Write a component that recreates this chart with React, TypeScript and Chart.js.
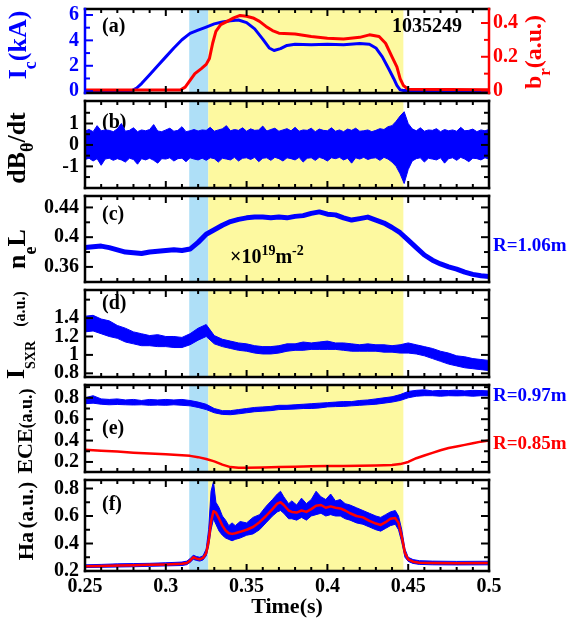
import React, { useEffect, useRef } from "react";
import { Chart, registerables } from "chart.js";
Chart.register(...registerables);

const FONT = "'Liberation Serif', 'Times New Roman', Times, serif";
const BLUE = "#0000ff";
const RED = "#ff0000";
const BLACK = "#000000";
const SHADE_BLUE_COLOR = "#aedff7";
const SHADE_YELLOW_COLOR = "#fdf9a0";

// ---------- axes / ticks ----------
const X_MIN = 0.25;
const X_MAX = 0.5;
const xMajor = [0.25, 0.3, 0.35, 0.4, 0.45, 0.5];
const xTickLabels = ["0.25", "0.3", "0.35", "0.4", "0.45", "0.5"];
const xMinor = [0.26, 0.27, 0.28, 0.29, 0.31, 0.32, 0.33, 0.34, 0.36, 0.37, 0.38, 0.39, 0.41, 0.42, 0.43, 0.44, 0.46, 0.47, 0.48, 0.49];

const shadeBlue = [0.3145, 0.3263];
const shadeYellow = [0.3263, 0.447];

const icTicks = [0, 2, 4, 6];
const icMinor = [1, 3, 5];
const brTicks = [0, 0.2, 0.4];
const brMinor = [0.1, 0.3];
const dbTicks = [-1, 0, 1];
const dbMinor = [-1.5, -0.5, 0.5, 1.5];
const neTicks = [0.36, 0.4, 0.44];
const neMinor = [0.38, 0.42];
const sxrTicks = [0.8, 1, 1.2, 1.4];
const sxrMinor = [1.6];
const eceTicks = [0.2, 0.4, 0.6, 0.8];
const eceMinor = [0.3, 0.5, 0.7, 0.9];
const haTicks = [0.2, 0.4, 0.6, 0.8];
const haMinor = [0.3, 0.5, 0.7];

// ---------- data ----------
// (a) Ic (kA)
const tIc = [0.25, 0.279, 0.282, 0.285, 0.29, 0.295, 0.3, 0.305, 0.31, 0.315, 0.32, 0.325, 0.33, 0.335, 0.34, 0.345, 0.35, 0.355, 0.36, 0.364, 0.367, 0.371, 0.375, 0.38, 0.39, 0.4, 0.41, 0.42, 0.426, 0.43, 0.434, 0.438, 0.441, 0.443, 0.445, 0.447, 0.5];
const vIc = [0.05, 0.05, 0.25, 0.6, 1.3, 2.0, 2.7, 3.4, 4.05, 4.55, 4.8, 5.05, 5.3, 5.45, 5.55, 5.6, 5.4, 4.9, 4.1, 3.4, 3.2, 3.35, 3.6, 3.7, 3.65, 3.7, 3.65, 3.75, 3.7, 3.4, 2.7, 1.75, 1.0, 0.45, 0.1, 0.05, 0.05];
// (a) br (a.u.)
const tBr = [0.25, 0.309, 0.312, 0.315, 0.318, 0.322, 0.325, 0.327, 0.329, 0.331, 0.334, 0.338, 0.342, 0.346, 0.35, 0.354, 0.358, 0.362, 0.366, 0.37, 0.38, 0.39, 0.4, 0.41, 0.42, 0.426, 0.432, 0.436, 0.44, 0.443, 0.445, 0.447, 0.45, 0.5];
const vBr = [0.003, 0.003, 0.02, 0.06, 0.1, 0.13, 0.155, 0.19, 0.28, 0.35, 0.39, 0.41, 0.43, 0.445, 0.44, 0.43, 0.41, 0.38, 0.355, 0.34, 0.335, 0.32, 0.31, 0.305, 0.315, 0.33, 0.32, 0.28, 0.2, 0.14, 0.07, 0.03, 0.008, 0.005];

// time grids
const grid25 = Array.from({ length: 101 }, (_, i) => +(0.25 + i * 0.0025).toFixed(4));
const grid5 = Array.from({ length: 51 }, (_, i) => +(0.25 + i * 0.005).toFixed(3));

// (b) dB/dt envelope
const dbUpper = [
  0.65, 0.72, 0.62, 0.9, 0.66, 0.7, 0.68, 0.62, 0.75, 1.0,
  0.64, 0.68, 0.8, 0.62, 0.7, 0.66, 0.72, 0.95, 0.65, 0.62,
  0.7, 0.78, 0.64, 0.68, 0.85, 0.62, 0.66, 0.72, 0.65, 0.7,
  0.68, 0.82, 0.64, 0.7, 0.75, 0.9, 0.66, 0.72, 0.68, 0.8,
  0.64, 0.75, 0.68, 0.7, 0.88, 0.65, 0.72, 0.78, 0.64, 0.7,
  0.76, 0.66, 0.82, 0.64, 0.7, 0.68, 0.78, 0.62, 0.74, 0.68,
  0.66, 0.8, 0.64, 0.7, 0.62, 0.74, 0.68, 0.78, 0.64, 0.66,
  0.7, 0.62, 0.68, 0.76, 0.72, 0.85, 0.9, 1.1, 1.35, 1.55,
  1.0, 0.75, 0.66, 0.8, 0.64, 0.7, 0.68, 0.76, 0.62, 0.72,
  0.66, 0.7, 0.64, 0.82, 0.66, 0.68, 0.74, 0.62, 0.7, 0.66,
  0.72,
];
const dbLower = [
  -0.68, -0.62, -0.75, -0.64, -0.95, -0.66, -0.62, -0.72, -0.64, -0.7,
  -0.8, -0.62, -0.68, -0.9, -0.64, -0.7, -0.62, -0.72, -0.85, -0.64,
  -0.66, -0.6, -0.75, -0.64, -0.62, -0.78, -0.6, -0.66, -0.7, -0.62,
  -0.72, -0.6, -0.64, -0.8, -0.62, -0.66, -0.7, -0.58, -0.75, -0.62,
  -0.6, -0.68, -0.58, -0.78, -0.62, -0.6, -0.72, -0.58, -0.64, -0.75,
  -0.6, -0.64, -0.7, -0.58, -0.8, -0.62, -0.6, -0.72, -0.58, -0.64,
  -0.75, -0.6, -0.64, -0.58, -0.7, -0.62, -0.85, -0.6, -0.66, -0.58,
  -0.68, -0.62, -0.6, -0.72, -0.58, -0.66, -0.8, -1.0, -1.35, -1.8,
  -1.15, -0.75, -0.64, -0.6, -0.8, -0.62, -0.66, -0.7, -0.6, -0.85,
  -0.64, -0.6, -0.72, -0.58, -0.66, -0.78, -0.62, -0.64, -0.7, -0.6,
  -0.66,
];

// (c) neL
const neL = [
  0.386, 0.387, 0.388, 0.386, 0.383, 0.38, 0.379, 0.378, 0.38, 0.381,
  0.382, 0.383, 0.382, 0.384, 0.393, 0.404, 0.41, 0.416, 0.421, 0.424,
  0.426, 0.427, 0.427, 0.426, 0.427, 0.426, 0.428, 0.429, 0.432, 0.434,
  0.431, 0.43, 0.426, 0.423, 0.425, 0.427, 0.423, 0.419, 0.413, 0.406,
  0.396, 0.386, 0.376, 0.369, 0.364, 0.36, 0.357, 0.353, 0.35, 0.348,
  0.347,
];

// (d) I_SXR envelope
const sxrUpper = [
  1.42, 1.43, 1.39, 1.37, 1.32, 1.29, 1.25, 1.23, 1.21, 1.22,
  1.2, 1.2, 1.19, 1.23, 1.29, 1.33, 1.21, 1.17, 1.15, 1.13,
  1.12, 1.1, 1.09, 1.09, 1.1, 1.12, 1.12, 1.14, 1.13, 1.14,
  1.15, 1.13, 1.13, 1.12, 1.11, 1.12, 1.11, 1.11, 1.1, 1.11,
  1.13, 1.11, 1.09, 1.07, 1.04, 1.02, 0.99, 0.98, 0.96, 0.95,
  0.94,
];
const sxrLower = [
  1.25, 1.26, 1.23, 1.2, 1.18, 1.14, 1.12, 1.1, 1.1, 1.09,
  1.09, 1.08, 1.08, 1.11, 1.16, 1.2, 1.12, 1.09, 1.07, 1.05,
  1.04, 1.02, 1.01, 1.01, 1.02, 1.04, 1.05, 1.05, 1.06, 1.06,
  1.06, 1.06, 1.05, 1.04, 1.04, 1.04, 1.04, 1.03, 1.03, 1.02,
  1.02, 1.01, 0.99, 0.96, 0.93, 0.9, 0.88, 0.86, 0.85, 0.84,
  0.83,
];

// (e) ECE R=0.97m envelope
const eceBlueUpper = [
  0.8, 0.82, 0.79, 0.785, 0.79, 0.78, 0.785, 0.775, 0.785, 0.78,
  0.785, 0.78, 0.785, 0.775, 0.76, 0.74, 0.7, 0.68, 0.68, 0.69,
  0.7, 0.71, 0.715, 0.72, 0.73, 0.73, 0.735, 0.74, 0.745, 0.75,
  0.755, 0.76, 0.765, 0.765, 0.775, 0.78, 0.79, 0.8, 0.81, 0.83,
  0.86, 0.87, 0.875, 0.865, 0.87, 0.868, 0.872, 0.865, 0.87, 0.868,
  0.865,
];
const eceBlueLower = [
  0.745, 0.75, 0.74, 0.735, 0.738, 0.735, 0.733, 0.735, 0.73, 0.732,
  0.73, 0.735, 0.73, 0.725, 0.71, 0.69, 0.66, 0.645, 0.642, 0.65,
  0.66, 0.67, 0.675, 0.68, 0.69, 0.692, 0.695, 0.7, 0.7, 0.705,
  0.715, 0.718, 0.72, 0.725, 0.73, 0.735, 0.74, 0.75, 0.76, 0.775,
  0.8, 0.815, 0.82, 0.82, 0.815, 0.82, 0.818, 0.82, 0.815, 0.82,
  0.818,
];
// (e) ECE R=0.85m
const tEceRed = [0.25, 0.26, 0.27, 0.28, 0.29, 0.3, 0.31, 0.315, 0.32, 0.325, 0.33, 0.335, 0.34, 0.345, 0.35, 0.36, 0.37, 0.38, 0.39, 0.4, 0.41, 0.42, 0.43, 0.44, 0.445, 0.45, 0.455, 0.46, 0.465, 0.47, 0.475, 0.48, 0.485, 0.49, 0.495, 0.5];
const vEceRed = [0.315, 0.305, 0.297, 0.287, 0.28, 0.272, 0.262, 0.257, 0.245, 0.228, 0.205, 0.175, 0.152, 0.145, 0.145, 0.148, 0.152, 0.156, 0.159, 0.161, 0.163, 0.165, 0.167, 0.172, 0.18, 0.2, 0.235, 0.26, 0.285, 0.31, 0.33, 0.345, 0.36, 0.375, 0.39, 0.4];

// (f) Ha
const tHa = [0.25, 0.26, 0.27, 0.28, 0.29, 0.3, 0.31, 0.313, 0.315, 0.317, 0.319, 0.321, 0.323, 0.325, 0.3265, 0.328, 0.3295, 0.331, 0.333, 0.335, 0.337, 0.339, 0.341, 0.343, 0.346, 0.35, 0.354, 0.358, 0.362, 0.366, 0.369, 0.371, 0.373, 0.376, 0.378, 0.381, 0.384, 0.387, 0.39, 0.393, 0.396, 0.399, 0.402, 0.405, 0.408, 0.411, 0.414, 0.418, 0.422, 0.426, 0.43, 0.433, 0.436, 0.439, 0.442, 0.444, 0.446, 0.448, 0.45, 0.453, 0.457, 0.465, 0.48, 0.5];
const haRed = [0.235, 0.237, 0.24, 0.242, 0.245, 0.248, 0.252, 0.258, 0.275, 0.3, 0.29, 0.285, 0.295, 0.33, 0.42, 0.56, 0.635, 0.625, 0.58, 0.53, 0.495, 0.475, 0.47, 0.475, 0.485, 0.5, 0.52, 0.555, 0.6, 0.65, 0.69, 0.7, 0.68, 0.64, 0.63, 0.625, 0.64, 0.63, 0.65, 0.675, 0.68, 0.66, 0.67, 0.66, 0.655, 0.64, 0.62, 0.6, 0.59, 0.565, 0.545, 0.535, 0.555, 0.58, 0.585, 0.55, 0.45, 0.33, 0.285, 0.268, 0.26, 0.258, 0.257, 0.258];
const haBlueUpper = [0.245, 0.248, 0.252, 0.254, 0.256, 0.26, 0.265, 0.272, 0.29, 0.315, 0.305, 0.3, 0.31, 0.36, 0.5, 0.78, 0.85, 0.7, 0.66, 0.6, 0.57, 0.53, 0.55, 0.53, 0.56, 0.55, 0.59, 0.61, 0.67, 0.72, 0.76, 0.78, 0.74, 0.69, 0.71, 0.68, 0.73, 0.69, 0.72, 0.78, 0.74, 0.72, 0.76, 0.71, 0.72, 0.69, 0.68, 0.66, 0.64, 0.62, 0.6, 0.59, 0.61, 0.63, 0.64, 0.6, 0.5, 0.36, 0.3, 0.283, 0.275, 0.272, 0.27, 0.271];
const haBlueLower = [0.225, 0.227, 0.229, 0.231, 0.234, 0.237, 0.24, 0.246, 0.262, 0.285, 0.277, 0.272, 0.28, 0.31, 0.38, 0.5, 0.58, 0.54, 0.49, 0.46, 0.44, 0.43, 0.42, 0.43, 0.44, 0.46, 0.47, 0.5, 0.55, 0.6, 0.63, 0.64, 0.62, 0.58, 0.58, 0.57, 0.59, 0.57, 0.6, 0.61, 0.62, 0.6, 0.61, 0.6, 0.6, 0.58, 0.57, 0.55, 0.54, 0.52, 0.5, 0.49, 0.51, 0.53, 0.54, 0.5, 0.41, 0.3, 0.27, 0.255, 0.248, 0.245, 0.244, 0.245];

// ---------- layout ----------
const W = 567;
const PAD = 14;
const LEFTW = 85;
const RIGHTW = 78;
const XAXH = 51;
const edges = [5, 97, 192, 286, 381, 476, 571];

type Seg = { t: string; size: number; dy?: number };
type Txt = { segs: Seg[]; x: number; y: number; color: string; rot?: boolean; align?: "left" | "center"; under?: boolean };

const pts = (ts: number[], vs: number[]) => ts.map((t, i) => ({ x: t, y: vs[i] }));
const line = (data: any[], color: string, width: number, yAxisID = "y") => ({
  data, borderColor: color, backgroundColor: color, borderWidth: width, yAxisID,
  pointRadius: 0, fill: false, tension: 0, borderJoinStyle: "round",
});
const band = (up: any[], lo: any[], color: string) => [
  { data: up, borderColor: color, backgroundColor: color, borderWidth: 1, pointRadius: 0, fill: "+1", tension: 0, yAxisID: "y" },
  { data: lo, borderColor: color, backgroundColor: color, borderWidth: 1, pointRadius: 0, fill: false, tension: 0, yAxisID: "y" },
];

const letter = (s: string, y: number): Txt => ({ segs: [{ t: s, size: 20 }], x: 102, y, color: BLACK, align: "left", under: true });

const panels: any[] = [
  {
    top: edges[0], bottom: edges[1], showX: false,
    y: { min: -0.144, max: 6.47, major: icTicks, minor: icMinor, color: BLUE },
    y2: { min: -0.0146, max: 0.483, major: brTicks, minor: brMinor, color: RED },
    leftColor: BLUE, rightColor: RED,
    datasets: [line(pts(tBr, vBr), RED, 3, "y2"), line(pts(tIc, vIc), BLUE, 3, "y")],
    texts: [
      letter("(a)", 25),
      { segs: [{ t: "1035249", size: 20 }], x: 427, y: 25, color: BLACK },
      { segs: [{ t: "I", size: 26 }, { t: "c", size: 18, dy: 10 }, { t: "(kA)", size: 26 }], x: 17, y: 45, color: BLUE, rot: true },
      { segs: [{ t: "b", size: 24 }, { t: "r", size: 17, dy: 9 }, { t: "(a.u.)", size: 24 }], x: 533, y: 52, color: RED, rot: true },
    ],
  },
  {
    top: edges[1], bottom: edges[2], showX: false,
    y: { min: -2.01, max: 2.05, major: dbTicks, minor: dbMinor, color: BLACK },
    leftColor: BLACK, rightColor: BLACK,
    datasets: band(pts(grid25, dbUpper), pts(grid25, dbLower), BLUE),
    texts: [
      letter("(b)", 121),
      { segs: [{ t: "dB", size: 26 }, { t: "θ", size: 18, dy: 8 }, { t: "/dt", size: 26 }], x: 16, y: 148, color: BLACK, rot: true },
    ],
  },
  {
    top: edges[2], bottom: edges[3], showX: false,
    y: { min: 0.3397, max: 0.4554, major: neTicks, minor: neMinor, color: BLACK },
    leftColor: BLACK, rightColor: BLACK,
    datasets: [line(pts(grid5, neL), BLUE, 5)],
    texts: [
      letter("(c)", 213),
      { segs: [{ t: "n", size: 26 }, { t: "e", size: 18, dy: 11 }, { t: "L", size: 26 }], x: 16, y: 249, color: BLACK, rot: true },
      { segs: [{ t: "×10", size: 20 }, { t: "19", size: 14, dy: -8 }, { t: "m", size: 20 }, { t: "-2", size: 14, dy: -8 }], x: 230, y: 256.5, color: BLACK, align: "left" },
      { segs: [{ t: "R=1.06m", size: 19 }], x: 493, y: 245, color: BLUE, align: "left" },
    ],
  },
  {
    top: edges[3], bottom: edges[4], showX: false,
    y: { min: 0.76, max: 1.705, major: sxrTicks, minor: sxrMinor, color: BLACK },
    leftColor: BLACK, rightColor: BLACK,
    datasets: band(pts(grid5, sxrUpper), pts(grid5, sxrLower), BLUE),
    texts: [
      letter("(d)", 302),
      { segs: [{ t: "I", size: 26 }, { t: "SXR", size: 14, dy: 11 }], x: 15, y: 360, color: BLACK, rot: true },
      { segs: [{ t: "(a.u.)", size: 16 }], x: 19.5, y: 309, color: BLACK, rot: true },
    ],
  },
  {
    top: edges[4], bottom: edges[5], showX: false,
    y: { min: 0.106, max: 0.92, major: eceTicks, minor: eceMinor, color: BLACK },
    leftColor: BLACK, rightColor: BLACK,
    datasets: [line(pts(tEceRed, vEceRed), RED, 2.5), ...band(pts(grid5, eceBlueUpper), pts(grid5, eceBlueLower), BLUE)],
    texts: [
      letter("(e)", 427),
      { segs: [{ t: "ECE", size: 22 }, { t: "(a.u.)", size: 18 }], x: 24.5, y: 431, color: BLACK, rot: true },
      { segs: [{ t: "R=0.97m", size: 19 }], x: 493, y: 395, color: BLUE, align: "left" },
      { segs: [{ t: "R=0.85m", size: 19 }], x: 493, y: 443, color: RED, align: "left" },
    ],
  },
  {
    top: edges[5], bottom: edges[6], showX: true,
    y: { min: 0.2, max: 0.862, major: haTicks, minor: haMinor, color: BLACK },
    leftColor: BLACK, rightColor: BLACK,
    datasets: [line(pts(tHa, haRed), RED, 2.5), ...band(pts(tHa, haBlueUpper), pts(tHa, haBlueLower), BLUE)],
    texts: [
      letter("(f)", 503),
      { segs: [{ t: "Ha", size: 22 }, { t: " ", size: 14 }, { t: "(a.u.)", size: 21 }], x: 25.5, y: 521, color: BLACK, rot: true },
    ],
  },
];

function canvasTop(p: any) { return p.top - PAD; }
function canvasHeight(p: any) { return p.bottom - p.top + PAD + (p.showX ? XAXH : PAD); }

function drawRich(ctx: CanvasRenderingContext2D, txt: Txt, offY: number) {
  ctx.save();
  const widths = txt.segs.map((s) => { ctx.font = `bold ${s.size}px ${FONT}`; return ctx.measureText(s.t).width; });
  const total = widths.reduce((a, b) => a + b, 0);
  const main = Math.max(...txt.segs.map((s) => s.size));
  ctx.translate(txt.x, txt.y - offY);
  if (txt.rot) ctx.rotate(-Math.PI / 2);
  let x = txt.align === "left" ? 0 : -total / 2;
  ctx.fillStyle = txt.color;
  ctx.textAlign = "left";
  ctx.textBaseline = "alphabetic";
  txt.segs.forEach((s, i) => {
    ctx.font = `bold ${s.size}px ${FONT}`;
    ctx.fillText(s.t, x, main * 0.34 + (s.dy || 0));
    x += widths[i];
  });
  ctx.restore();
}

function yScale(a: any, position: "left" | "right") {
  return {
    type: "linear", position, min: a.min, max: a.max,
    afterBuildTicks: (s: any) => { s.ticks = a.major.map((v: number) => ({ value: v })); },
    afterFit: (s: any) => { s.width = position === "left" ? LEFTW : RIGHTW; },
    grid: { display: false, drawTicks: false },
    border: { display: false },
    ticks: {
      color: a.color, padding: position === "left" ? 6 : 4,
      font: { family: FONT, size: 20, weight: "bold" },
      callback: (v: number) => String(v),
    },
  };
}

function buildConfig(p: any) {
  const top = canvasTop(p);
  const scales: any = {
    x: {
      type: "linear", min: X_MIN, max: X_MAX, display: p.showX,
      afterBuildTicks: (s: any) => { s.ticks = xMajor.map((v) => ({ value: v })); },
      afterFit: (s: any) => { s.height = p.showX ? XAXH : 0; },
      grid: { display: false, drawTicks: false },
      border: { display: false },
      ticks: {
        color: BLACK, padding: 4, maxRotation: 0, autoSkip: false,
        font: { family: FONT, size: 20, weight: "bold" },
        callback: (v: number) => { const i = xMajor.findIndex((m) => Math.abs(m - v) < 1e-9); return i >= 0 ? xTickLabels[i] : ""; },
      },
      title: { display: true, text: "Time(s)", color: BLACK, font: { family: FONT, size: 22, weight: "bold" }, padding: { top: 0, bottom: 1 } },
    },
    y: yScale(p.y, "left"),
  };
  if (p.y2) scales.y2 = yScale(p.y2, "right");

  const shadePlugin = {
    id: "shade",
    beforeDatasetsDraw(chart: any) {
      const { ctx, chartArea: a } = chart;
      const xs = chart.scales.x;
      ctx.save();
      const rect = (r: number[], c: string) => {
        const x0 = xs.getPixelForValue(r[0]);
        const x1 = xs.getPixelForValue(r[1]);
        ctx.fillStyle = c;
        ctx.fillRect(x0, a.top, x1 - x0, a.bottom - a.top);
      };
      rect(shadeBlue, SHADE_BLUE_COLOR);
      rect(shadeYellow, SHADE_YELLOW_COLOR);
      ctx.restore();
      p.texts.filter((t: Txt) => t.under).forEach((t: Txt) => drawRich(ctx, t, top));
    },
  };

  const framePlugin = {
    id: "frame",
    afterDatasetsDraw(chart: any) {
      const { ctx, chartArea: a } = chart;
      const xs = chart.scales.x;
      const ys = chart.scales.y;
      const y2 = chart.scales.y2;
      ctx.save();
      ctx.lineWidth = 2;
      ctx.lineCap = "butt";
      const seg = (x0: number, y0: number, x1: number, y1: number, c: string) => {
        ctx.strokeStyle = c; ctx.beginPath(); ctx.moveTo(x0, y0); ctx.lineTo(x1, y1); ctx.stroke();
      };
      xMajor.forEach((v) => { const px = xs.getPixelForValue(v); seg(px, a.bottom, px, a.bottom - 7, BLACK); seg(px, a.top, px, a.top + 7, BLACK); });
      xMinor.forEach((v) => { const px = xs.getPixelForValue(v); seg(px, a.bottom, px, a.bottom - 4, BLACK); seg(px, a.top, px, a.top + 4, BLACK); });
      const inRange = (s: any, v: number) => v >= s.min && v <= s.max;
      const yt = (s: any, vals: number[], len: number, side: "l" | "r", c: string) => {
        vals.filter((v) => inRange(s, v)).forEach((v) => {
          const py = s.getPixelForValue(v);
          if (side === "l") seg(a.left, py, a.left + len, py, c); else seg(a.right, py, a.right - len, py, c);
        });
      };
      yt(ys, p.y.major, 8, "l", p.leftColor);
      yt(ys, p.y.minor, 5, "l", p.leftColor);
      if (y2) {
        yt(y2, p.y2.major, 8, "r", p.rightColor);
        yt(y2, p.y2.minor, 5, "r", p.rightColor);
      } else {
        yt(ys, p.y.major, 8, "r", p.rightColor);
        yt(ys, p.y.minor, 5, "r", p.rightColor);
      }
      ctx.lineWidth = 2.5;
      ctx.lineCap = "square";
      seg(a.left, a.top, a.right, a.top, BLACK);
      seg(a.left, a.bottom, a.right, a.bottom, BLACK);
      seg(a.left, a.top, a.left, a.bottom, p.leftColor);
      seg(a.right, a.top, a.right, a.bottom, p.rightColor);
      ctx.restore();
    },
  };

  const textPlugin = {
    id: "texts",
    afterDraw(chart: any) {
      p.texts.filter((t: Txt) => !t.under).forEach((t: Txt) => drawRich(chart.ctx, t, top));
    },
  };

  return {
    type: "line",
    data: { datasets: p.datasets },
    options: {
      responsive: false,
      animation: false,
      events: [],
      layout: { padding: { top: PAD, bottom: p.showX ? 0 : PAD, left: 0, right: p.y2 ? 0 : RIGHTW } },
      plugins: { legend: { display: false }, tooltip: { enabled: false } },
      elements: { point: { radius: 0 }, line: { tension: 0 } },
      scales,
    },
    plugins: [shadePlugin, framePlugin, textPlugin],
  } as any;
}

export default function App() {
  const refs = useRef<(HTMLCanvasElement | null)[]>([]);
  useEffect(() => {
    const charts = panels.map((p, i) => new Chart(refs.current[i] as HTMLCanvasElement, buildConfig(p)));
    return () => charts.forEach((c) => c.destroy());
  }, []);
  return (
    <div style={{ position: "fixed", left: 0, top: 0, width: W, height: 623, background: "#fff", overflow: "hidden" }}>
      {panels.map((p, i) => {
        const t = canvasTop(p);
        const h = canvasHeight(p);
        return (
          <canvas
            key={i}
            ref={(el) => { refs.current[i] = el; }}
            width={W}
            height={h}
            style={{ position: "absolute", left: 0, top: t, width: W, height: h }}
          />
        );
      })}
    </div>
  );
}
